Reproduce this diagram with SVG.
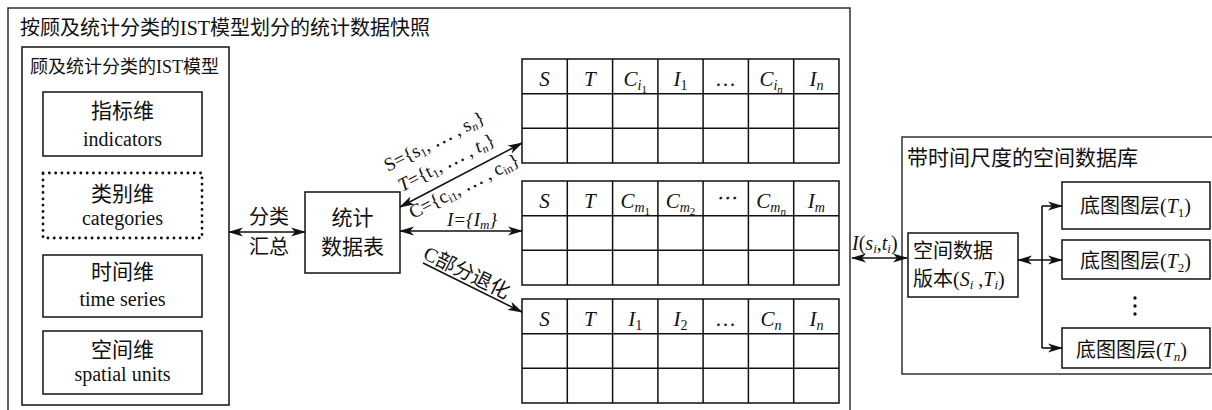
<svg xmlns="http://www.w3.org/2000/svg" width="1212" height="410" viewBox="0 0 1212 410">
<style>
text{font-family:"Liberation Serif","Noto Sans CJK SC",serif;fill:#111}
.box{fill:none;stroke:#111;stroke-width:1.5}
.frame{fill:none;stroke:#222;stroke-width:1.4}
.ln{fill:none;stroke:#111;stroke-width:1.6}
.arr{fill:none;stroke:#111;stroke-width:1.6;marker-end:url(#ah)}
.darr{fill:none;stroke:#111;stroke-width:1.6;marker-start:url(#ah);marker-end:url(#ah)}
.h{font-size:21px;font-style:italic;text-anchor:middle}
.c{text-anchor:middle}
.it{font-style:italic}
.up{font-style:normal}
</style>
<defs>
<marker id="ah" markerUnits="userSpaceOnUse" markerWidth="15" markerHeight="10" refX="14" refY="5" orient="auto-start-reverse" viewBox="0 0 15 10">
<path d="M0,0.5 L15,5 L0,9.5 L4,5 Z" fill="#111"/>
</marker>
<g id="grid">
<rect x="0" y="0" width="317" height="104" class="box"/>
<path class="box" d="M45.3,0V104M90.6,0V104M135.9,0V104M181.1,0V104M226.4,0V104M271.7,0V104M0,34.7H317M0,69.3H317"/>
</g>
</defs>

<g id="snapshot">
<rect class="frame" x="8" y="8" width="842" height="420"/>
<text x="20" y="35" font-size="20">按顾及统计分类的IST模型划分的统计数据快照</text>
</g>

<g id="ist-model">
<rect class="box" x="22" y="47" width="207" height="358"/>
<text x="30" y="73" font-size="18">顾及统计分类的IST模型</text>
</g>
<g id="indicators">
<rect class="box" x="43" y="92" width="159" height="64"/>
<text class="c" x="122.5" y="118" font-size="21">指标维</text>
<text class="c" x="122.5" y="146" font-size="20">indicators</text>
</g>
<g id="categories">
<rect x="43" y="173" width="159" height="65" fill="none" stroke="#111" stroke-width="2.8" stroke-dasharray="0.1 6.2" stroke-linecap="round"/>
<text class="c" x="122.5" y="201" font-size="21">类别维</text>
<text class="c" x="122.5" y="225" font-size="20">categories</text>
</g>
<g id="time">
<rect class="box" x="43" y="255" width="159" height="62"/>
<text class="c" x="122.5" y="279" font-size="21">时间维</text>
<text class="c" x="122.5" y="306" font-size="20">time series</text>
</g>
<g id="spatial">
<rect class="box" x="43" y="331" width="159" height="63"/>
<text class="c" x="122.5" y="357" font-size="21">空间维</text>
<text class="c" x="122.5" y="381" font-size="20">spatial units</text>
</g>

<g id="stat-table">
<rect class="box" x="305" y="192" width="95" height="81"/>
<text class="c" x="352.5" y="225" font-size="21">统计</text>
<text class="c" x="352.5" y="254" font-size="21">数据表</text>
</g>

<g id="table1">
<use href="#grid" x="522" y="59"/>
<text class="h" x="544.6" y="86">S</text>
<text class="h" x="589.9" y="86">T</text>
<text class="h" x="635.2" y="86">C<tspan dy="4" font-size="14">i</tspan><tspan dy="3" font-size="11" class="up">1</tspan></text>
<text class="h" x="680.5" y="86">I<tspan dy="4" font-size="14" class="up">1</tspan></text>
<text class="h" x="725.8" y="86" font-style="normal" font-size="18">…</text>
<text class="h" x="771.1" y="86">C<tspan dy="4" font-size="14">i</tspan><tspan dy="3" font-size="11">n</tspan></text>
<text class="h" x="816.4" y="86">I<tspan dy="4" font-size="14">n</tspan></text>
</g>

<g id="table2">
<use href="#grid" x="522" y="181"/>
<text class="h" x="544.6" y="208">S</text>
<text class="h" x="589.9" y="208">T</text>
<text class="h" x="635.2" y="208">C<tspan dy="4" font-size="14">m</tspan><tspan dy="3" font-size="11" class="up">1</tspan></text>
<text class="h" x="680.5" y="208">C<tspan dy="4" font-size="14">m</tspan><tspan dy="3" font-size="11" class="up">2</tspan></text>
<text class="h" x="725.8" y="206" font-style="normal" font-size="14">⋯</text>
<text class="h" x="771.1" y="208">C<tspan dy="4" font-size="14">m</tspan><tspan dy="3" font-size="11">n</tspan></text>
<text class="h" x="816.4" y="208">I<tspan dy="4" font-size="14">m</tspan></text>
</g>

<g id="table3">
<use href="#grid" x="522" y="299"/>
<text class="h" x="544.6" y="326">S</text>
<text class="h" x="589.9" y="326">T</text>
<text class="h" x="635.2" y="326">I<tspan dy="4" font-size="14" class="up">1</tspan></text>
<text class="h" x="680.5" y="326">I<tspan dy="4" font-size="14" class="up">2</tspan></text>
<text class="h" x="725.8" y="326" font-style="normal" font-size="18">…</text>
<text class="h" x="771.1" y="326">C<tspan dy="4" font-size="14">n</tspan></text>
<text class="h" x="816.4" y="326">I<tspan dy="4" font-size="14">n</tspan></text>
</g>

<g id="spatial-db">
<rect class="frame" x="902" y="137" width="320" height="237"/>
<text x="907" y="165" font-size="21">带时间尺度的空间数据库</text>
</g>
<g id="version">
<rect class="box" x="908" y="233" width="110" height="64"/>
<text x="913" y="258" font-size="20">空间数据</text>
<text x="913" y="286" font-size="20">版本(<tspan class="it">S</tspan><tspan class="it" dy="3" font-size="13">i</tspan><tspan dy="-3"> ,</tspan><tspan class="it">T</tspan><tspan class="it" dy="3" font-size="13">i</tspan><tspan dy="-3">)</tspan></text>
</g>
<g id="layer1">
<rect class="box" x="1062" y="182" width="148" height="47"/>
<text x="1080" y="213" font-size="20">底图图层(<tspan class="it">T</tspan><tspan dy="4" font-size="13">1</tspan><tspan dy="-4">)</tspan></text>
</g>
<g id="layer2">
<rect class="box" x="1062" y="240" width="148" height="39"/>
<text x="1080" y="268" font-size="20">底图图层(<tspan class="it">T</tspan><tspan dy="4" font-size="13">2</tspan><tspan dy="-4">)</tspan></text>
</g>
<g id="layern">
<rect class="box" x="1062" y="328" width="148" height="40"/>
<text x="1076" y="357" font-size="20">底图图层(<tspan class="it">T</tspan><tspan class="it" dy="4" font-size="13">n</tspan><tspan dy="-4">)</tspan></text>
</g>
<g id="vdots" fill="#111">
<circle cx="1135" cy="298" r="1.7"/>
<circle cx="1135" cy="306" r="1.7"/>
<circle cx="1135" cy="314" r="1.7"/>
</g>

<g id="connectors">
<line class="darr" x1="229" y1="232" x2="305" y2="232"/>
<text class="c" x="269" y="224" font-size="20">分类</text>
<text class="c" x="269" y="254" font-size="20">汇总</text>

<line class="darr" x1="400" y1="207" x2="522" y2="143"/>
<text transform="translate(388,172) rotate(-27)" font-size="19">S={s<tspan dy="3" font-size="12">1</tspan><tspan dy="-3">, ⋯ , s</tspan><tspan dy="3" font-size="12" class="it">n</tspan><tspan dy="-3">}</tspan></text>
<text transform="translate(402,192) rotate(-27)" font-size="19"><tspan class="it">T</tspan>={t<tspan dy="3" font-size="12">1</tspan><tspan dy="-3">, ⋯ , </tspan><tspan class="it">t</tspan><tspan dy="3" font-size="12" class="it">n</tspan><tspan dy="-3">}</tspan></text>
<text transform="translate(413,219) rotate(-27)" font-size="19">C={c<tspan dy="3" font-size="12">i1</tspan><tspan dy="-3">, ⋯ , c</tspan><tspan dy="3" font-size="12">in</tspan><tspan dy="-3">}</tspan></text>

<line class="darr" x1="400" y1="231" x2="522" y2="231"/>
<text class="c it" x="472" y="226" font-size="19">I={I<tspan dy="3" font-size="13">m</tspan><tspan dy="-3">}</tspan></text>

<line class="arr" x1="423" y1="263" x2="522" y2="312"/>
<text transform="translate(422,258) rotate(26.3)" font-size="20">C部分退化</text>

<line class="darr" x1="852" y1="258" x2="907" y2="258"/>
<text x="852" y="250" font-size="20"><tspan class="it">I</tspan>(<tspan class="it">s</tspan><tspan class="it" dy="3" font-size="13">i</tspan><tspan dy="-3">,</tspan><tspan class="it">t</tspan><tspan class="it" dy="3" font-size="13">i</tspan><tspan dy="-3">)</tspan></text>

<line class="darr" x1="1018" y1="260" x2="1062" y2="260"/>
<path class="ln" d="M1042,206V348"/>
<line class="arr" x1="1042" y1="206" x2="1062" y2="206"/>
<line class="arr" x1="1042" y1="348" x2="1062" y2="348"/>
</g>
</svg>
